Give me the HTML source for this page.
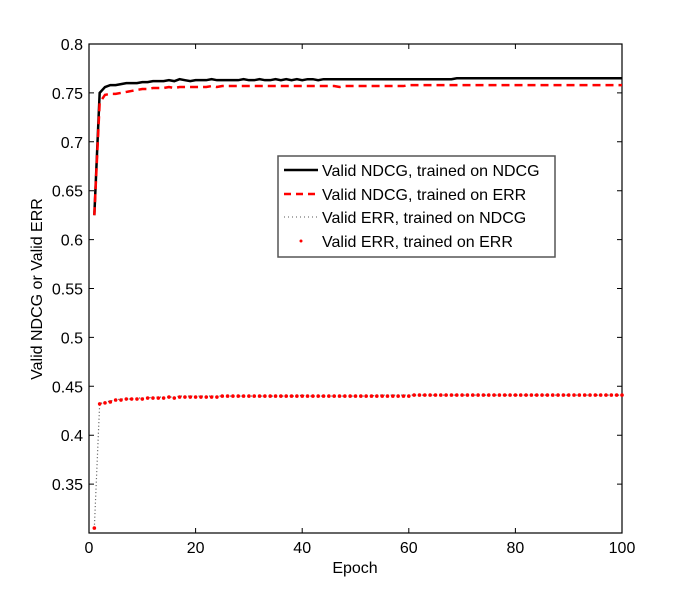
<!DOCTYPE html>
<html><head><meta charset="utf-8"><style>
body{margin:0;background:#fff;font-family:"Liberation Sans",sans-serif}
</style></head><body>
<svg id="chart" width="685" height="600" xmlns="http://www.w3.org/2000/svg" font-family="Liberation Sans, sans-serif">
<rect width="685" height="600" fill="#fff"/>
<g id="plot"></g>
<text x="355" y="573" font-size="16" text-anchor="middle">Epoch</text>
<text transform="translate(42,289) rotate(-90)" font-size="16" text-anchor="middle">Valid NDCG or Valid ERR</text>
<g>
<rect x="278" y="156" width="277" height="101" fill="#fff" stroke="#555" stroke-width="1.5"/>
<g><line x1="284" y1="170" x2="318" y2="170" stroke="#000" stroke-width="2.5"/><text x="322" y="176" font-size="16">Valid NDCG, trained on NDCG</text></g>
<g><line x1="284" y1="194" x2="318" y2="194" stroke="#f00" stroke-width="2.5" stroke-dasharray="7,5"/><text x="322" y="200" font-size="16">Valid NDCG, trained on ERR</text></g>
<g><line x1="284" y1="217" x2="318" y2="217" stroke="#555" stroke-width="1" stroke-dasharray="1,3"/><text x="322" y="223" font-size="16">Valid ERR, trained on NDCG</text></g>
<g><circle cx="301" cy="241" r="1.5" fill="#f00"/><text x="322" y="247" font-size="16">Valid ERR, trained on ERR</text></g>
</g>
</svg>
<script>
const xTicks=[0,20,40,60,80,100];
const yTicks=["0.35","0.4","0.45","0.5","0.55","0.6","0.65","0.7","0.75","0.8"];
const ndcgNdcg=[0.625,0.750,0.756,0.758,0.758,0.759,0.760,0.760,0.760,0.761,0.761,0.762,0.762,0.762,0.763,0.762,0.764,0.763,0.762,0.763,0.763,0.763,0.764,0.763,0.763,0.763,0.763,0.763,0.764,0.763,0.763,0.764,0.763,0.763,0.764,0.763,0.764,0.763,0.764,0.763,0.764,0.764,0.763,0.764,0.764,0.764,0.764,0.764,0.764,0.764,0.764,0.764,0.764,0.764,0.764,0.764,0.764,0.764,0.764,0.764,0.764,0.764,0.764,0.764,0.764,0.764,0.764,0.764,0.765,0.765,0.765,0.765,0.765,0.765,0.765,0.765,0.765,0.765,0.765,0.765,0.765,0.765,0.765,0.765,0.765,0.765,0.765,0.765,0.765,0.765,0.765,0.765,0.765,0.765,0.765,0.765,0.765,0.765,0.765,0.765];
const ndcgErr=[0.625,0.740,0.748,0.749,0.749,0.750,0.751,0.752,0.753,0.754,0.754,0.755,0.755,0.755,0.756,0.755,0.756,0.756,0.756,0.756,0.756,0.756,0.757,0.756,0.757,0.757,0.757,0.757,0.757,0.757,0.757,0.757,0.757,0.757,0.757,0.757,0.757,0.757,0.757,0.757,0.757,0.757,0.757,0.757,0.757,0.757,0.756,0.757,0.757,0.757,0.757,0.757,0.757,0.757,0.757,0.757,0.757,0.757,0.757,0.758,0.758,0.758,0.758,0.758,0.758,0.758,0.758,0.758,0.758,0.758,0.758,0.758,0.758,0.758,0.758,0.758,0.758,0.758,0.758,0.758,0.758,0.758,0.758,0.758,0.758,0.758,0.758,0.758,0.758,0.758,0.758,0.758,0.758,0.758,0.758,0.758,0.758,0.758,0.758,0.758];
const errNdcg=[0.305,0.432,0.434,0.435,0.436,0.437,0.437,0.437,0.438,0.438,0.438,0.439,0.439,0.439,0.439,0.439,0.440,0.440,0.440,0.440,0.440,0.440,0.440,0.440,0.440,0.440,0.440,0.440,0.440,0.440,0.440,0.440,0.440,0.440,0.440,0.440,0.440,0.440,0.440,0.441,0.440,0.440,0.440,0.440,0.440,0.440,0.440,0.440,0.440,0.440,0.440,0.440,0.440,0.441,0.441,0.441,0.441,0.441,0.441,0.441,0.441,0.441,0.441,0.441,0.441,0.441,0.441,0.441,0.441,0.441,0.441,0.441,0.441,0.441,0.441,0.441,0.441,0.441,0.441,0.441,0.441,0.441,0.441,0.441,0.441,0.441,0.441,0.441,0.441,0.441,0.441,0.441,0.441,0.441,0.441,0.441,0.441,0.441,0.441,0.441];
const errErr=[0.305,0.432,0.433,0.434,0.436,0.436,0.437,0.437,0.437,0.437,0.438,0.438,0.438,0.438,0.439,0.438,0.439,0.439,0.439,0.439,0.439,0.439,0.439,0.439,0.440,0.440,0.440,0.440,0.440,0.440,0.440,0.440,0.440,0.440,0.440,0.440,0.440,0.440,0.440,0.440,0.440,0.440,0.440,0.440,0.440,0.440,0.440,0.440,0.440,0.440,0.440,0.440,0.440,0.440,0.440,0.440,0.440,0.440,0.440,0.440,0.441,0.441,0.441,0.441,0.441,0.441,0.441,0.441,0.441,0.441,0.441,0.441,0.441,0.441,0.441,0.441,0.441,0.441,0.441,0.441,0.441,0.441,0.441,0.441,0.441,0.441,0.441,0.441,0.441,0.441,0.441,0.441,0.441,0.441,0.441,0.441,0.441,0.441,0.441,0.441];
const L=89,R=622,T=44,B=533;
const xs=v=>L+(v/100)*(R-L);
const ys=v=>B-(v-0.3)/0.5*(B-T);
const NS="http://www.w3.org/2000/svg";
const g=document.getElementById('plot');
function mk(tag,attrs){const e=document.createElementNS(NS,tag);for(const k in attrs)e.setAttribute(k,attrs[k]);g.appendChild(e);return e;}
const frame=mk('rect',{x:L,y:T,width:R-L,height:B-T,fill:'none',stroke:'#000','stroke-width':1.2});


xTicks.forEach(t=>{
  const x=xs(t);
  const l=mk('path',{d:`M${x},${B}v-5M${x},${T}v5`,stroke:'#000'});
  
  
  const tx=mk('text',{x:x,y:B+20,'font-size':16,'text-anchor':'middle'});tx.textContent=t;
  
  
});
yTicks.forEach(t=>{
  const y=ys(parseFloat(t));
  const l=mk('path',{d:`M${L},${y}h5M${R},${y}h-5`,stroke:'#000'});
  
  
  const tx=mk('text',{x:L-6,y:y+6,'font-size':16,'text-anchor':'end'});tx.textContent=t;
  
  
});
const pts=a=>a.map((v,i)=>xs(i+1)+','+ys(v)).join(' ');
const s1=mk('polyline',{points:pts(errNdcg),fill:'none',stroke:'#555','stroke-width':1.2,'stroke-dasharray':'1,2.5'});


errErr.forEach((v,i)=>{
  const c=mk('circle',{cx:xs(i+1),cy:ys(v),r:1.8,fill:'#f00'});
  
  
});
const s3=mk('polyline',{points:pts(ndcgNdcg),fill:'none',stroke:'#000','stroke-width':2.5});


const s2=mk('polyline',{points:pts(ndcgErr),fill:'none',stroke:'#f00','stroke-width':2.5,'stroke-dasharray':'8,5'});


</script>
</body></html>
